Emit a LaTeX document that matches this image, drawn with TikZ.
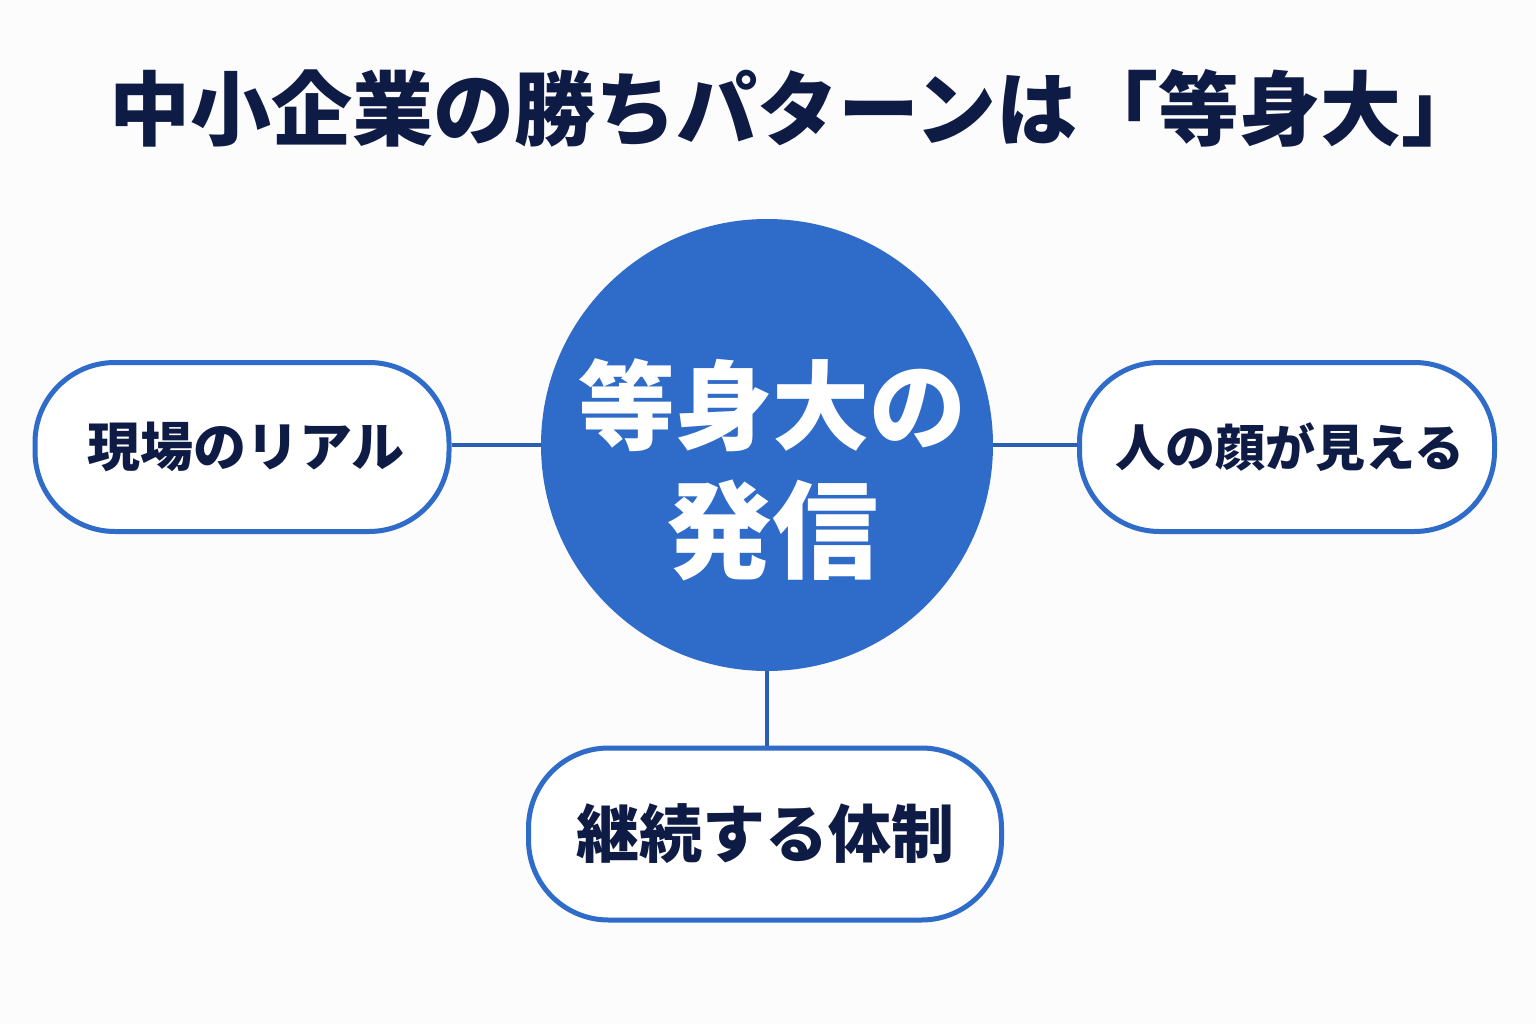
\documentclass[tikz,border=0pt]{standalone}
\usepackage{fontspec}
\setmainfont{Noto Sans CJK JP}
\usetikzlibrary{positioning}
\definecolor{navy}{HTML}{0E1B45}
\definecolor{mainblue}{HTML}{2F6BC8}
\definecolor{linkblue}{HTML}{2A5DB4}
\definecolor{bg}{HTML}{FCFCFD}
\begin{document}
\begin{tikzpicture}[x=1pt,y=-1pt,
  pill/.style={draw=mainblue, line width=5pt, fill=white, rounded corners=80pt, inner sep=0pt, text=navy, font=\bfseries\fontsize{53}{60}\selectfont},
  link/.style={draw=linkblue, line width=4.5pt}]
\fill[bg] (0,0) rectangle (1536,1024);
\useasboundingbox (0,0) rectangle (1536,1024);
\node[text=navy, font=\bfseries\fontsize{81}{90}\selectfont] (title) at (796,108) {中小企業の勝ちパターンは「等身大」};
\node[circle, fill=mainblue, minimum size=452pt, inner sep=0pt] (hub) at (767,445) {};
\node[text=white, font=\bfseries\fontsize{97}{110}\selectfont] (l1) at (772,405) {等身大の};
\node[text=white, font=\bfseries\fontsize{106}{120}\selectfont] (l2) at (772,530) {発信};
\node[pill, minimum width=414pt, minimum height=169pt] (left) at (242,447) {\hspace*{8pt}現場のリアル};
\node[pill, minimum width=415pt, minimum height=169pt, font=\bfseries\fontsize{50}{60}\selectfont] (right) at (1287,447) {\hspace*{6pt}人の顔が見える};
\node[pill, minimum width=473pt, minimum height=172pt, font=\bfseries\fontsize{63}{70}\selectfont] (bottom) at (765,834) {継続する体制};
\draw[link] (hub.west) -- (hub.west -| left.east);
\draw[link] (hub.east) -- (hub.east -| right.west);
\draw[link] (hub.south) -- (hub.south |- bottom.north);
\end{tikzpicture}
\end{document}
